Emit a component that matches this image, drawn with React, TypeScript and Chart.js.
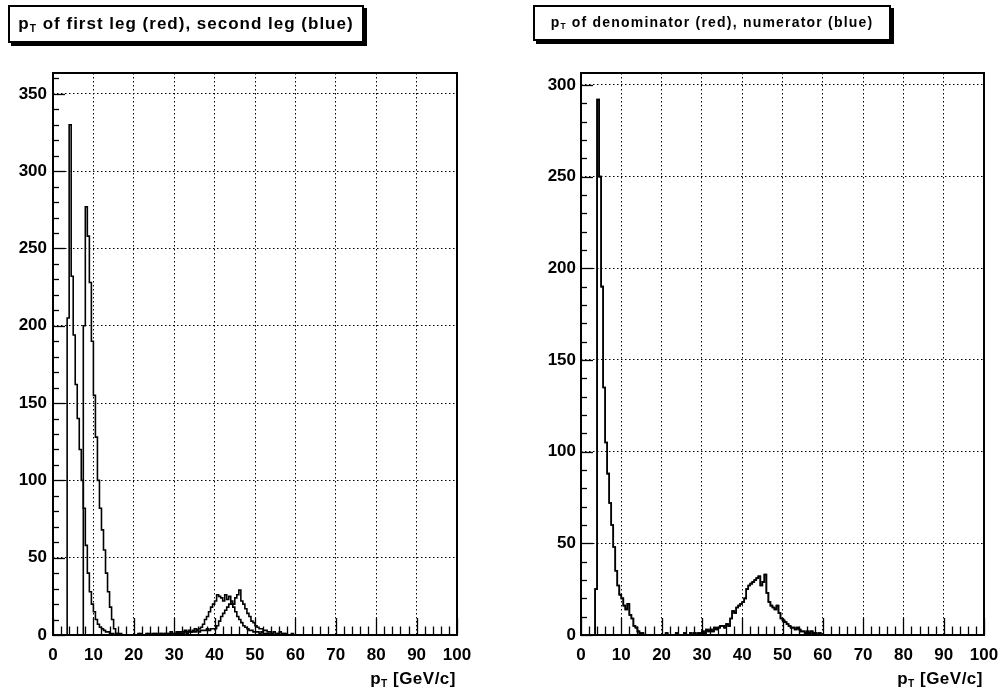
import React, { useEffect, useRef } from "react";
import { Chart, registerables } from "chart.js";

Chart.register(...registerables);

// Histogram bins: 0.5 GeV wide, starting at 0 GeV (values to 60 GeV, zero beyond)
const BIN_WIDTH = 0.5;
const X_MIN = 0;
const X_MAX = 100;

// Left panel: pT of first leg (red) and second leg (blue)
const firstLegCounts = [
  0, 0, 0, 0, 0, 0, 0, 205, 330, 232,
  194, 162, 140, 120, 100, 82, 58, 40, 28, 20,
  15, 10, 7, 5, 4, 3, 2, 2, 1, 1,
  0, 1, 0, 0, 0, 0, 0, 0, 0, 0,
  0, 0, 1, 0, 0, 0, 1, 0, 0, 1,
  0, 1, 0, 1, 0, 1, 1, 0, 2, 1,
  1, 2, 1, 2, 2, 3, 2, 3, 2, 3,
  4, 3, 4, 5, 7, 10, 12, 15, 18, 20,
  22, 26, 25, 24, 22, 26, 23, 25, 20, 18,
  15, 12, 10, 8, 6, 5, 4, 3, 3, 2,
  2, 2, 1, 2, 1, 1, 1, 0, 1, 0,
  0, 1, 0, 0, 1, 0, 0, 0, 0, 0,
];
const secondLegCounts = [
  0, 0, 0, 0, 0, 0, 0, 0, 0, 0,
  0, 0, 0, 0, 0, 200, 277, 258, 228, 190,
  155, 128, 100, 82, 68, 55, 40, 28, 18, 10,
  4, 1, 0, 1, 0, 0, 0, 0, 0, 0,
  0, 0, 0, 1, 0, 0, 0, 1, 0, 0,
  1, 0, 0, 1, 0, 1, 0, 1, 1, 0,
  1, 1, 2, 1, 1, 2, 1, 2, 2, 2,
  2, 3, 2, 3, 3, 3, 4, 3, 4, 4,
  4, 6, 9, 12, 14, 16, 18, 20, 22, 20,
  24, 26, 29, 22, 20, 17, 14, 12, 9, 8,
  6, 5, 4, 4, 3, 3, 2, 2, 1, 2,
  1, 1, 2, 1, 0, 1, 0, 0, 1, 0,
];

// Right panel: pT of denominator (red) and numerator (blue) — they overlap
const denominatorCounts = [
  0, 0, 0, 0, 0, 0, 0, 25, 292, 250,
  190, 135, 105, 88, 72, 60, 48, 35, 27, 22,
  20, 16, 14, 17, 11, 9, 5, 4, 2, 1,
  1, 0, 0, 0, 0, 0, 0, 0, 0, 0,
  0, 0, 1, 0, 0, 0, 0, 1, 0, 0,
  0, 1, 0, 0, 1, 0, 1, 0, 1, 1,
  2, 1, 3, 2, 3, 2, 4, 3, 4, 5,
  5, 4, 6, 5, 9, 13, 12, 15, 16, 17,
  18, 20, 25, 27, 28, 29, 30, 31, 32, 27,
  29, 33, 23, 18, 16, 15, 14, 16, 12, 9,
  8, 7, 6, 5, 4, 4, 3, 4, 3, 2,
  2, 1, 2, 1, 2, 1, 1, 0, 1, 0,
];
const numeratorCounts = denominatorCounts;

const LEFT_Y_MAX = 363.5;
const RIGHT_Y_MAX = 306.5;
const X_STEP = 10;
const Y_STEP = 50;

const leftTitle = ["p", "T", " of first leg (red), second leg (blue)"];
const rightTitle = ["p", "T", " of denominator (red), numerator (blue)"];
const axisTitle = ["p", "T", " [GeV/c]"];

const FONT = "'Liberation Sans', Arial, Helvetica, sans-serif";

function toPoints(counts: number[]) {
  const pts = counts.map((c, i) => ({ x: X_MIN + i * BIN_WIDTH, y: c }));
  pts.push({ x: X_MIN + counts.length * BIN_WIDTH, y: 0 });
  pts.push({ x: X_MAX, y: 0 });
  return pts;
}

const framePlugin = {
  id: "rootFrame",
  afterDatasetsDraw(chart: any) {
    const { ctx, chartArea: a, scales } = chart;
    const xs = scales.x;
    const ys = scales.y;
    ctx.save();
    ctx.strokeStyle = "#000";
    ctx.lineWidth = 1.3;
    // inward ticks on x axis
    for (let v = X_MIN; v <= X_MAX + 1e-9; v += X_STEP / 5) {
      const major = Math.abs(v / X_STEP - Math.round(v / X_STEP)) < 1e-6;
      const len = major ? 17 : 8.5;
      const px = Math.round(xs.getPixelForValue(v)) + 0.5;
      ctx.beginPath();
      ctx.moveTo(px, a.bottom);
      ctx.lineTo(px, a.bottom - len);
      ctx.stroke();
    }
    // inward ticks on y axis
    for (let v = 0; v <= ys.max + 1e-9; v += Y_STEP / 5) {
      const major = Math.abs(v / Y_STEP - Math.round(v / Y_STEP)) < 1e-6;
      const len = major ? 12 : 6;
      const py = Math.round(ys.getPixelForValue(v)) + 0.5;
      ctx.beginPath();
      ctx.moveTo(a.left, py);
      ctx.lineTo(a.left + len, py);
      ctx.stroke();
    }
    ctx.lineWidth = 2;
    ctx.strokeRect(a.left, a.top, a.right - a.left, a.bottom - a.top);
    ctx.restore();
  },
};

type PanelProps = {
  series: number[][];
  yMax: number;
  yAxisWidth: number;
  rightPad: number;
  yLabelPad: number;
};

function Panel({ series, yMax, yAxisWidth, rightPad, yLabelPad }: PanelProps) {
  const ref = useRef<HTMLCanvasElement>(null);
  useEffect(() => {
    if (!ref.current) return;
    const tickFont = { family: FONT, weight: "bold" as const, size: 17 };
    const chart = new Chart(ref.current, {
      type: "line",
      data: {
        datasets: series.map((s) => ({
          data: toPoints(s),
          stepped: true,
          borderColor: "#000",
          borderWidth: 1.6,
          pointRadius: 0,
          fill: false,
        })),
      },
      options: {
        animation: false,
        responsive: false,
        events: [],
        layout: { padding: { left: 0, right: rightPad, top: 73, bottom: 16 } },
        plugins: { legend: { display: false }, tooltip: { enabled: false }, title: { display: false } },
        scales: {
          x: {
            type: "linear",
            min: X_MIN,
            max: X_MAX,
            afterFit: (s: any) => {
              s.height = 40;
              s.paddingRight = 0;
              s.paddingLeft = 0;
            },
            ticks: {
              stepSize: X_STEP,
              includeBounds: false,
              color: "#000",
              font: tickFont,
              padding: 10,
              maxRotation: 0,
            },
            grid: { color: "#000", lineWidth: 1, drawTicks: false },
            border: { display: false, dash: [1.5, 2.5] },
          },
          y: {
            type: "linear",
            min: 0,
            max: yMax,
            afterFit: (s: any) => {
              s.width = yAxisWidth;
              s.paddingTop = 0;
              s.paddingBottom = 0;
            },
            ticks: {
              stepSize: Y_STEP,
              includeBounds: false,
              color: "#000",
              font: tickFont,
              padding: yLabelPad,
            },
            grid: { color: "#000", lineWidth: 1, drawTicks: false },
            border: { display: false, dash: [1.5, 2.5] },
          },
        },
      },
      plugins: [framePlugin],
    });
    return () => chart.destroy();
  }, []);
  return <canvas ref={ref} width={501} height={691} style={{ display: "block" }} />;
}

function PT({ parts, size }: { parts: string[]; size: number }) {
  return (
    <span>
      {parts[0]}
      <sub style={{ fontSize: size * 0.6, verticalAlign: "-0.25em" }}>{parts[1]}</sub>
      {parts[2]}
    </span>
  );
}

export default function App() {
  const titleBox = (left: number, width: number, height: number, size: number, spacing: number) => ({
    position: "absolute" as const,
    left,
    top: 5,
    width,
    height,
    boxSizing: "border-box" as const,
    border: "2px solid #000",
    boxShadow: "3px 3px 0 #000",
    background: "#fff",
    fontFamily: FONT,
    fontWeight: "bold" as const,
    fontSize: size,
    letterSpacing: spacing,
    display: "flex",
    alignItems: "center",
    justifyContent: "center",
    whiteSpace: "nowrap" as const,
  });
  const axisLabel = (right: number) => ({
    position: "absolute" as const,
    right,
    top: 670,
    fontFamily: FONT,
    fontWeight: "bold" as const,
    fontSize: 17,
    letterSpacing: 0.5,
    lineHeight: "18px",
    whiteSpace: "nowrap" as const,
  });
  return (
    <div
      style={{
        position: "absolute",
        left: 0,
        top: 0,
        width: 1002,
        height: 691,
        background: "#fff",
        overflow: "hidden",
      }}
    >
      <div style={{ position: "absolute", left: 0, top: 0 }}>
        <Panel series={[firstLegCounts, secondLegCounts]} yMax={LEFT_Y_MAX} yAxisWidth={53} rightPad={44} yLabelPad={6} />
      </div>
      <div style={{ position: "absolute", left: 501, top: 0 }}>
        <Panel series={[denominatorCounts, numeratorCounts]} yMax={RIGHT_Y_MAX} yAxisWidth={80} rightPad={18} yLabelPad={5} />
      </div>
      <div style={titleBox(8, 356, 38, 17, 1)}>
        <PT parts={leftTitle} size={17} />
      </div>
      <div style={titleBox(533, 358, 36, 14, 1.2)}>
        <PT parts={rightTitle} size={14} />
      </div>
      <div style={axisLabel(1002 - 456)}>
        <PT parts={axisTitle} size={17} />
      </div>
      <div style={axisLabel(1002 - 983)}>
        <PT parts={axisTitle} size={17} />
      </div>
    </div>
  );
}
